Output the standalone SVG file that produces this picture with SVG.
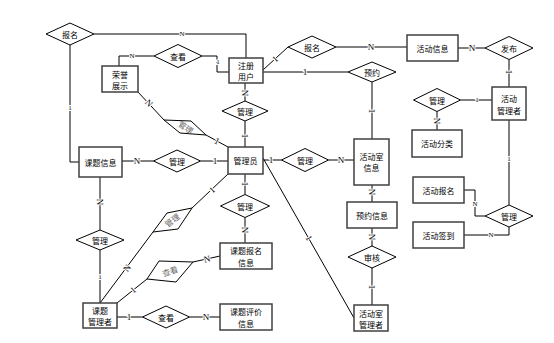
<svg xmlns="http://www.w3.org/2000/svg" width="554" height="343" viewBox="0 0 554 343">
<style>
.ent{fill:#fff;stroke:#404040;stroke-width:1.5}
.rel{fill:#fff;stroke:#000;stroke-width:1}
.ln{stroke:#000;stroke-width:1;fill:none}
.t{font-family:"Noto Sans CJK SC","Noto Sans",sans-serif;font-size:8px;text-anchor:middle;dominant-baseline:central;fill:#000}
.g{fill:#666}
.lb{font-family:"Liberation Serif",serif;font-size:9px;text-anchor:middle;dominant-baseline:central;fill:#000;paint-order:stroke;stroke:#fff;stroke-width:2}
.sm{font-size:7px}
</style>
<rect width="554" height="343" fill="#fff"/>
<g id="connectors">
<polyline class="ln" points="94,34 246,34 246,58"/>
<polyline class="ln" points="70,45 70,162 79,162"/>
<polyline class="ln" points="154,56 119,56 119,66"/>
<polyline class="ln" points="202,56 217,56 217,72 229,72"/>
<line class="ln" x1="263" y1="70" x2="288" y2="47"/>
<line class="ln" x1="336" y1="47" x2="407" y2="47"/>
<line class="ln" x1="263" y1="72" x2="348" y2="72"/>
<line class="ln" x1="372" y1="82" x2="372" y2="139"/>
<line class="ln" x1="458" y1="48" x2="485" y2="48"/>
<line class="ln" x1="509" y1="59.5" x2="509" y2="87"/>
<line class="ln" x1="460.5" y1="100" x2="492" y2="100"/>
<line class="ln" x1="437" y1="111.5" x2="437" y2="130"/>
<line class="ln" x1="509" y1="120" x2="509" y2="205"/>
<polyline class="ln" points="464,190 475,190 475,216 485,216"/>
<polyline class="ln" points="464,235 509,235 509,227"/>
<line class="ln" x1="245" y1="83" x2="245" y2="101"/>
<line class="ln" x1="245" y1="121" x2="245" y2="147"/>
<line class="ln" x1="122" y1="161" x2="153.5" y2="161"/>
<line class="ln" x1="200.5" y1="161" x2="228" y2="161"/>
<line class="ln" x1="263" y1="160" x2="281.5" y2="160"/>
<line class="ln" x1="328.5" y1="160" x2="354" y2="160"/>
<line class="ln" x1="245" y1="174" x2="245" y2="194.5"/>
<line class="ln" x1="245" y1="217.5" x2="245" y2="243"/>
<line class="ln" x1="100" y1="177" x2="100" y2="230"/>
<line class="ln" x1="100" y1="250" x2="100" y2="303"/>
<line class="ln" x1="117" y1="317" x2="142.5" y2="317"/>
<line class="ln" x1="189.5" y1="317" x2="220" y2="317"/>
<line class="ln" x1="138" y1="92" x2="164" y2="120"/>
<line class="ln" x1="206" y1="135" x2="228" y2="147"/>
<line class="ln" x1="100" y1="303" x2="153" y2="232"/>
<line class="ln" x1="192" y1="208" x2="228" y2="174"/>
<line class="ln" x1="117" y1="303" x2="147" y2="279"/>
<line class="ln" x1="193" y1="262" x2="220" y2="256"/>
<line class="ln" x1="263" y1="158" x2="354" y2="318"/>
<line class="ln" x1="372" y1="185" x2="372" y2="202"/>
<line class="ln" x1="372" y1="228" x2="372" y2="246"/>
<line class="ln" x1="372" y1="268" x2="372" y2="305"/>
<!-- labels -->
<text class="lb sm" x="182" y="34">N</text>
<text class="lb sm" x="70" y="108">1</text>
<text class="lb sm" x="132" y="56">N</text>
<text class="lb sm" x="218" y="62">1</text>
<text class="lb" x="275" y="59" transform="rotate(-43 275 59)">1</text>
<text class="lb" x="371" y="47">N</text>
<text class="lb" x="305" y="72">1</text>
<text class="lb" x="372" y="111" transform="rotate(90 372 111)">1</text>
<text class="lb" x="472" y="48">N</text>
<text class="lb" x="509" y="72" transform="rotate(90 509 72)">1</text>
<text class="lb sm" x="477" y="100">1</text>
<text class="lb" x="437" y="121" transform="rotate(90 437 121)">N</text>
<text class="lb sm" x="509" y="159">1</text>
<text class="lb sm" x="475" y="204">N</text>
<text class="lb sm" x="491" y="235">N</text>
<text class="lb" x="245" y="93" transform="rotate(90 245 93)">N</text>
<text class="lb" x="245" y="136" transform="rotate(90 245 136)">1</text>
<text class="lb" x="137" y="161">N</text>
<text class="lb" x="215" y="161">1</text>
<text class="lb" x="271" y="160">1</text>
<text class="lb" x="341" y="160">N</text>
<text class="lb" x="245" y="184" transform="rotate(90 245 184)">1</text>
<text class="lb" x="245" y="230" transform="rotate(90 245 230)">N</text>
<text class="lb" x="100" y="202" transform="rotate(90 100 202)">N</text>
<text class="lb sm" x="100" y="277">1</text>
<text class="lb" x="129" y="317">1</text>
<text class="lb" x="206" y="317">N</text>
<text class="lb" x="149" y="103" transform="rotate(47 149 103)">N</text>
<text class="lb" x="217" y="141" transform="rotate(29 217 141)">1</text>
<text class="lb" x="127" y="268" transform="rotate(-53 127 268)">N</text>
<text class="lb" x="212" y="190" transform="rotate(-43 212 190)">1</text>
<text class="lb" x="133" y="290" transform="rotate(-39 133 290)">1</text>
<text class="lb" x="207" y="259" transform="rotate(-13 207 259)">N</text>
<text class="lb" x="309" y="238" transform="rotate(60 309 238)">1</text>
<text class="lb" x="372" y="192" transform="rotate(90 372 192)">N</text>
<text class="lb" x="372" y="237" transform="rotate(90 372 237)">N</text>
<text class="lb" x="372" y="287" transform="rotate(90 372 287)">1</text>
</g>
<!-- entities -->
<g id="e-zhucheyonghu"><rect class="ent" x="229" y="58" width="34" height="25"/><text class="t" x="246" y="65">注册</text><text class="t" x="246" y="76">用户</text></g>
<g id="e-huodongxinxi"><rect class="ent" x="407" y="35" width="51" height="26"/><text class="t" x="432.5" y="48">活动信息</text></g>
<g id="e-huodongguanlizhe"><rect class="ent" x="492" y="87" width="34" height="33"/><text class="t" x="509" y="98">活动</text><text class="t" x="509" y="110">管理者</text></g>
<g id="e-huodongfenlei"><rect class="ent" x="412" y="130" width="50" height="27"/><text class="t" x="437" y="143.5">活动分类</text></g>
<g id="e-huodongbaoming"><rect class="ent" x="413" y="177" width="51" height="26"/><text class="t" x="438.5" y="190">活动报名</text></g>
<g id="e-huodongqiandao"><rect class="ent" x="413" y="222" width="51" height="26"/><text class="t" x="438.5" y="235">活动签到</text></g>
<g id="e-huodongshixinxi"><rect class="ent" x="354" y="139" width="35" height="46"/><text class="t" x="371.5" y="156">活动室</text><text class="t" x="371.5" y="167">信息</text></g>
<g id="e-yuyuexinxi"><rect class="ent" x="347" y="202" width="50" height="26"/><text class="t" x="372" y="215">预约信息</text></g>
<g id="e-huodongshiguanlizhe"><rect class="ent" x="354" y="305" width="34" height="26"/><text class="t" x="371" y="313">活动室</text><text class="t" x="371" y="324">管理者</text></g>
<g id="e-guanliyuan"><rect class="ent" x="228" y="147" width="35" height="27"/><text class="t" x="245.5" y="160.5">管理员</text></g>
<g id="e-ketixinxi"><rect class="ent" x="79" y="147" width="43" height="30"/><text class="t" x="100.5" y="162">课题信息</text></g>
<g id="e-rongyuzhanshi"><rect class="ent" x="102" y="66" width="36" height="26"/><text class="t" x="120" y="74">荣誉</text><text class="t" x="120" y="85">展示</text></g>
<g id="e-ketiguanlizhe"><rect class="ent" x="83" y="303" width="34" height="25"/><text class="t" x="100" y="310">课题</text><text class="t" x="100" y="321">管理者</text></g>
<g id="e-ketibaomingxinxi"><rect class="ent" x="220" y="243" width="52" height="26"/><text class="t" x="246" y="250">课题报名</text><text class="t" x="246" y="262">信息</text></g>
<g id="e-ketipingjiaxinxi"><rect class="ent" x="220" y="304" width="52" height="26"/><text class="t" x="246" y="311">课题评价</text><text class="t" x="246" y="323">信息</text></g>
<!-- relationships -->
<g id="r-baoming1"><polygon class="rel" points="46,34 70,23 94,34 70,45"/><text class="t" x="70" y="34">报名</text></g>
<g id="r-chakan1"><polygon class="rel" points="154,56 178,44.5 202,56 178,67.5"/><text class="t" x="178" y="56">查看</text></g>
<g id="r-baoming2"><polygon class="rel" points="288,47 312,36 336,47 312,58"/><text class="t" x="312" y="47">报名</text></g>
<g id="r-yuyue"><polygon class="rel" points="348,72 372,62 396,72 372,82"/><text class="t" x="372" y="72">预约</text></g>
<g id="r-fabu"><polygon class="rel" points="485,48 509,36.5 533,48 509,59.5"/><text class="t" x="509" y="48">发布</text></g>
<g id="r-guanli-fenlei"><polygon class="rel" points="413.5,100 437,88.5 460.5,100 437,111.5"/><text class="t" x="437" y="100">管理</text></g>
<g id="r-guanli-huodong"><polygon class="rel" points="485,216 509,205 533,216 509,227"/><text class="t" x="509" y="216">管理</text></g>
<g id="r-guanli-yonghu"><polygon class="rel" points="222,111 245,101 268,111 245,121"/><text class="t" x="245" y="111">管理</text></g>
<g id="r-guanli-keti"><polygon class="rel" points="153.5,161 177,150 200.5,161 177,172"/><text class="t" x="177" y="161">管理</text></g>
<g id="r-guanli-shi"><polygon class="rel" points="281.5,160 305,148.5 328.5,160 305,171.5"/><text class="t" x="305" y="160">管理</text></g>
<g id="r-guanli-baoming"><polygon class="rel" points="220.5,206 245,194.5 269.5,206 245,217.5"/><text class="t" x="245" y="206">管理</text></g>
<g id="r-guanli-ketiguanli"><polygon class="rel" points="76,240 100,230 124,240 100,250"/><text class="t" x="100" y="240">管理</text></g>
<g id="r-chakan2"><polygon class="rel" points="142.5,317 166,306 189.5,317 166,328"/><text class="t" x="166" y="317">查看</text></g>
<g id="r-shenhe"><polygon class="rel" points="348,257 372,246 396,257 372,268"/><text class="t" x="372" y="257">审核</text></g>
<g id="r-guanli-rongyu"><polygon class="rel" points="164,120 191,121 206,135 180,133"/><text class="t g" x="186" y="127" transform="rotate(33 186 127)">管理</text></g>
<g id="r-guanli-tilt"><polygon class="rel" points="153,232 167,213 192,208 178,229"/><text class="t g" x="172" y="220" transform="rotate(-38 172 220)">管理</text></g>
<g id="r-chakan-tilt"><polygon class="rel" points="147,279 159,261 193,262 176,282"/><text class="t g" x="170" y="271" transform="rotate(-18 170 271)">查看</text></g>
</svg>
